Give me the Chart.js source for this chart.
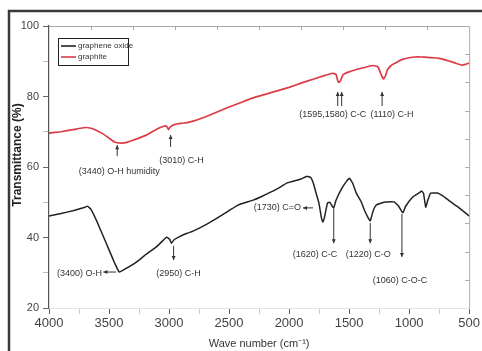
<!DOCTYPE html>
<html>
<head>
<meta charset="utf-8">
<script src="https://cdn.jsdelivr.net/npm/chart.js@4.4.0/dist/chart.umd.min.js"></script>
<style>
  html, body { margin: 0; padding: 0; background: #fff; }
</style>
</head>
<body>
<canvas id="c" width="482" height="351"></canvas>
<script>
// FTIR spectra, values

const goWave = [4000, 3900, 3800, 3700, 3680, 3650, 3600, 3550, 3500, 3450, 3415, 3380, 3300, 3250, 3200, 3100,
  3020, 2995, 2980, 2960, 2920, 2850, 2800, 2700, 2600, 2500, 2427, 2300, 2238, 2100, 2015, 1900, 1851, 1820,
  1800, 1770, 1752, 1730, 1719, 1705, 1680, 1660, 1640, 1628, 1610, 1560, 1520, 1497, 1470, 1440, 1400, 1373,
  1340, 1324, 1300, 1274, 1230, 1192, 1126, 1090, 1052, 1030, 970, 920, 895, 880, 862, 845, 821, 764, 720, 673,
  591, 500];
const goTrans = [46.1, 46.8, 47.6, 48.6, 48.9, 48.0, 44.5, 40.5, 36.5, 32.5, 30.2, 30.8, 32.4, 33.6, 35.0, 37.5,
  40.1, 39.5, 38.4, 39.3, 40.1, 41.2, 41.8, 43.5, 45.5, 47.6, 49.2, 50.6, 51.5, 53.8, 55.5, 56.6, 57.4, 57.0,
  55.6, 52.0, 49.8, 45.5, 44.4, 45.8, 49.8, 50.0, 48.8, 48.4, 50.5, 54.0, 56.0, 56.8, 55.4, 52.6, 50.2, 47.8,
  45.5, 44.7, 47.5, 49.2, 49.8, 50.1, 50.1, 49.0, 47.0, 48.8, 51.5, 52.6, 53.2, 52.5, 48.6, 50.5, 52.6, 52.6, 51.8, 50.6,
  48.6, 46.1];

const grWave = [4000, 3900, 3800, 3700, 3650, 3600, 3550, 3500, 3450, 3400, 3350, 3300, 3250, 3200, 3150, 3100,
  3050, 3020, 3005, 2990, 2950, 2900, 2850, 2800, 2700, 2600, 2500, 2400, 2300, 2200, 2100, 2000, 1900, 1800,
  1700, 1640, 1610, 1595, 1585, 1570, 1550, 1500, 1400, 1300, 1260, 1230, 1215, 1200, 1180, 1150, 1100, 1050,
  1000, 950, 900, 850, 800, 750, 700, 650, 600, 560, 530, 500];
const grTrans = [69.6, 70.0, 70.6, 71.2, 71.0, 70.3, 69.4, 68.2, 67.0, 66.8, 67.0, 67.6, 68.2, 68.9, 69.8, 70.8,
  71.5, 71.6, 70.6, 71.4, 72.1, 72.4, 72.6, 73.0, 74.2, 75.6, 77.0, 78.3, 79.6, 80.6, 81.6, 82.6, 83.8, 84.9,
  86.0, 86.6, 86.3, 84.5, 84.0, 84.6, 86.2, 87.0, 88.0, 88.8, 88.4, 86.0, 85.0, 85.6, 87.6, 88.8, 89.8, 90.6,
  91.0, 91.2, 91.2, 91.1, 91.0, 90.8, 90.4, 89.9, 89.3, 88.9, 89.1, 89.5];

const seriesNames = ['graphene oxide', 'graphite'];
const xTickLabels = [4000, 3500, 3000, 2500, 2000, 1500, 1000, 500];
const yTickLabels = [20, 40, 60, 80, 100];

// peak labels: text anchor and arrow given in (wave number, transmittance)
const notes = [
  { text: '(3440) O-H humidity', at: [3415, 58.6], arrow: [3432, 63.1, 3432, 66.2] },
  { text: '(3010) C-H', at: [2897, 61.7], arrow: [2987, 65.7, 2987, 69.1] },
  { text: '(1595,1580) C-C', at: [1637, 74.8], arrow: [1595, 77.3, 1595, 81.3] },
  { text: '', at: [1562, 74.8], arrow: [1562, 77.3, 1562, 81.3] },
  { text: '(1110) C-H', at: [1143, 74.8], arrow: [1225, 77.3, 1225, 81.3] },
  { text: '(3400) O-H', at: [3745, 29.9], arrow: [3440, 30.2, 3547, 30.2] },
  { text: '(2950) C-H', at: [2921, 29.9], arrow: [2962, 37.6, 2962, 33.6] },
  { text: '(1730) C=O', at: [2098, 48.4], arrow: [1801, 48.4, 1884, 48.4] },
  { text: '(1620) C-C', at: [1785, 35.3], arrow: [1628, 48.1, 1628, 38.4] },
  { text: '(1220) C-O', at: [1340, 35.3], arrow: [1324, 44.1, 1324, 38.4] },
  { text: '(1060) C-O-C', at: [1077, 27.9], arrow: [1060, 46.7, 1060, 34.5] }
];

const narrow = "'Liberation Sans Narrow', 'Arial Narrow', 'Liberation Sans', sans-serif";

function toPoints(xs, ys) {
  return xs.map((v, i) => ({ x: v, y: ys[i] }));
}

function arrow(ctx, x1, y1, x2, y2) {
  ctx.beginPath();
  ctx.moveTo(x1, y1);
  ctx.lineTo(x2, y2);
  ctx.stroke();
  const ang = Math.atan2(y2 - y1, x2 - x1);
  ctx.beginPath();
  ctx.moveTo(x2, y2);
  ctx.lineTo(x2 - 4 * Math.cos(ang) + 2 * Math.sin(ang), y2 - 4 * Math.sin(ang) - 2 * Math.cos(ang));
  ctx.lineTo(x2 - 4 * Math.cos(ang) - 2 * Math.sin(ang), y2 - 4 * Math.sin(ang) + 2 * Math.cos(ang));
  ctx.closePath();
  ctx.fill();
}

const decor = {
  id: 'decor',
  beforeDraw(chart) {
    const ctx = chart.ctx;
    ctx.save();
    ctx.strokeStyle = '#3a3a3a';
    ctx.lineWidth = 2.5;
    ctx.strokeRect(9, 11, 520, 400);
    ctx.restore();
  },
  afterDraw(chart) {
    const { ctx, chartArea: a, scales: { x, y } } = chart;
    ctx.save();

    // top and right frame with inward ticks
    ctx.strokeStyle = '#aaa';
    ctx.lineWidth = 1;
    ctx.beginPath();
    ctx.moveTo(a.left, a.top + 0.5);
    ctx.lineTo(a.right + 0.5, a.top + 0.5);
    ctx.lineTo(a.right + 0.5, a.bottom);
    ctx.stroke();
    ctx.beginPath();
    for (let w = 4000 - 350; w > 500; w -= 350) {
      const px = Math.round(x.getPixelForValue(w)) + 0.5;
      ctx.moveTo(px, a.top);
      ctx.lineTo(px, a.top + 4);
    }
    for (let v = 100 - 8; v > 20; v -= 8) {
      const py = Math.round(y.getPixelForValue(v)) + 0.5;
      ctx.moveTo(a.right, py);
      ctx.lineTo(a.right - 4, py);
    }
    ctx.stroke();

    // peak labels
    ctx.fillStyle = '#333';
    ctx.strokeStyle = '#333';
    ctx.lineWidth = 1;
    ctx.font = '9px ' + narrow;
    ctx.textAlign = 'center';
    ctx.textBaseline = 'middle';
    notes.forEach(n => {
      if (n.text) ctx.fillText(n.text, x.getPixelForValue(n.at[0]), y.getPixelForValue(n.at[1]));
      const [w1, v1, w2, v2] = n.arrow;
      arrow(ctx, x.getPixelForValue(w1), y.getPixelForValue(v1), x.getPixelForValue(w2), y.getPixelForValue(v2));
    });

    // legend
    const lx = a.left + 9, ly = a.top + 12;
    ctx.strokeStyle = '#222';
    ctx.lineWidth = 1;
    ctx.strokeRect(lx + 0.5, ly + 0.5, 70, 27);
    ctx.font = '8px ' + narrow;
    ctx.textAlign = 'left';
    chart.data.datasets.forEach((ds, i) => {
      const yy = ly + 8 + i * 11;
      ctx.strokeStyle = ds.borderColor;
      ctx.lineWidth = 1.6;
      ctx.beginPath();
      ctx.moveTo(lx + 3, yy);
      ctx.lineTo(lx + 18, yy);
      ctx.stroke();
      ctx.fillStyle = '#333';
      ctx.fillText(ds.label, lx + 20, yy);
    });

    // y axis title
    ctx.translate(18, 155);
    ctx.rotate(-Math.PI / 2);
    ctx.textAlign = 'center';
    ctx.fillStyle = '#222';
    ctx.font = 'bold 12px ' + narrow;
    ctx.fillText('Transmittance (%)', 0, 0);
    ctx.restore();
  }
};

new Chart(document.getElementById('c').getContext('2d'), {
  type: 'line',
  data: {
    datasets: [
      {
        label: seriesNames[0],
        data: toPoints(goWave, goTrans),
        borderColor: '#222',
        borderWidth: 1.5,
        pointRadius: 0,
        tension: 0.1
      },
      {
        label: seriesNames[1],
        data: toPoints(grWave, grTrans),
        borderColor: '#dc3a45',
        borderWidth: 1.7,
        pointRadius: 0,
        tension: 0.1
      }
    ]
  },
  options: {
    responsive: false,
    animation: false,
    layout: { padding: { top: 26, right: 8, left: 0, bottom: 0 } },
    plugins: { legend: { display: false }, tooltip: { enabled: false } },
    scales: {
      x: {
        type: 'linear',
        reverse: true,
        min: 500,
        max: 4000,
        afterFit: s => { s.height = 43; },
        ticks: {
          stepSize: 250,
          autoSkip: false,
          maxRotation: 0,
          padding: 2,
          color: '#444',
          font: { family: narrow, size: 13 },
          callback: v => xTickLabels.includes(v) ? String(v) : ''
        },
        grid: {
          drawOnChartArea: false,
          tickLength: 6,
          tickColor: c => xTickLabels.includes(c.tick.value) ? '#666' : '#ccc'
        },
        border: { color: '#e4e4e4' },
        title: {
          display: true,
          text: 'Wave number (cm\u207B\u00B9)',
          color: '#333',
          font: { family: narrow, size: 11 },
          padding: { top: 0, bottom: 0 }
        }
      },
      y: {
        min: 20,
        max: 100,
        afterFit: s => { s.width = 49; },
        ticks: {
          stepSize: 10,
          padding: 4,
          color: '#444',
          font: { family: narrow, size: 11 },
          callback: v => yTickLabels.includes(v) ? String(v) : ''
        },
        grid: {
          drawOnChartArea: false,
          tickLength: 6,
          tickColor: c => yTickLabels.includes(c.tick.value) ? '#666' : '#bbb'
        },
        border: { color: '#555', width: 1.2 }
      }
    }
  },
  plugins: [decor]
});
</script>
</body>
</html>
